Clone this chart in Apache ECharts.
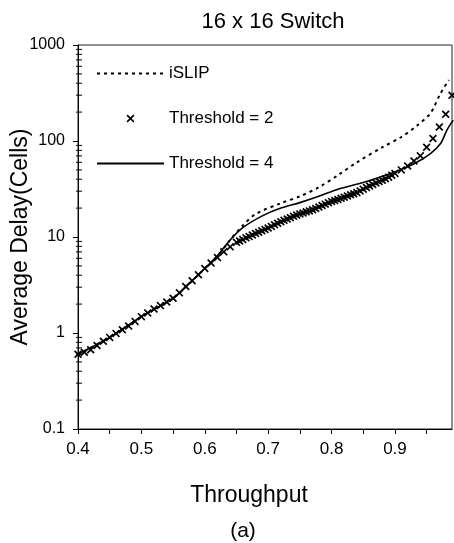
<!DOCTYPE html>
<html>
<head>
<meta charset="utf-8">
<script src="https://cdn.jsdelivr.net/npm/echarts@6/dist/echarts.min.js"></script>
<style>
    html, body { margin: 0; padding: 0; background: #fff; }
    #main { width: 454px; height: 543px; }
</style>
</head>
<body>
<div id="main"></div>
<script>
// 横轴 Throughput
var xTickLabels = ['0.4', '0.5', '0.6', '0.7', '0.8', '0.9'];

// iSLIP (dotted)
var islipX = [0.40, 0.45, 0.50, 0.55, 0.58, 0.60, 0.62, 0.64, 0.66, 0.68, 0.72, 0.75, 0.78, 0.81, 0.84, 0.88, 0.91, 0.935, 0.956, 0.972, 0.985];
var islipY = [0.60, 0.90, 1.48, 2.30, 3.50, 4.70, 6.3, 9.3, 13.2, 17.3, 22.5, 26.5, 33, 44, 60, 86, 110, 145, 195, 314, 432];

// Threshold = 2 (x markers)
var thr2X = [0.40, 0.41, 0.42, 0.43, 0.44, 0.45, 0.46, 0.47, 0.48, 0.49,
    0.50, 0.51, 0.52, 0.53, 0.54, 0.55, 0.56, 0.57, 0.58, 0.59,
    0.60, 0.61, 0.62, 0.63, 0.64,
    0.650, 0.655, 0.660, 0.665, 0.670, 0.675, 0.680, 0.685, 0.690, 0.695,
    0.700, 0.705, 0.710, 0.715, 0.720, 0.725, 0.730, 0.735, 0.740, 0.745,
    0.750, 0.755, 0.760, 0.765, 0.770, 0.775, 0.780, 0.785, 0.790, 0.795,
    0.800, 0.805, 0.810, 0.815, 0.820, 0.825, 0.830, 0.835, 0.840, 0.845,
    0.850, 0.855, 0.860, 0.865, 0.870, 0.875, 0.880, 0.885, 0.890, 0.895,
    0.90, 0.91, 0.92, 0.93, 0.94, 0.95, 0.96, 0.97, 0.98, 0.99];
var thr2Y = [0.60, 0.63, 0.67, 0.74, 0.82, 0.90, 0.99, 1.08, 1.18, 1.32,
    1.48, 1.62, 1.78, 1.93, 2.10, 2.30, 2.62, 3.05, 3.50, 4.05,
    4.70, 5.35, 6.10, 7.00, 7.90,
    8.8, 9.1, 9.4, 9.8, 10.1, 10.5, 10.9, 11.2, 11.6, 12.0,
    12.4, 12.9, 13.4, 13.9, 14.4, 14.9, 15.4, 15.9, 16.4, 16.9,
    17.4, 17.8, 18.3, 18.7, 19.2, 19.8, 20.5, 21.3, 22.0, 22.8,
    23.5, 24.0, 24.6, 25.3, 26.0, 26.8, 27.5, 28.2, 29.0, 30.2,
    31.5, 32.8, 34.0, 35.2, 36.5, 37.8, 39.0, 40.5, 42.0, 44.0,
    46, 50, 55, 62, 70, 86, 106, 140, 190, 300];

// Threshold = 4 (solid)
var thr4X = [0.40, 0.45, 0.50, 0.55, 0.58, 0.60, 0.62, 0.64, 0.66, 0.69, 0.72, 0.75, 0.78, 0.81, 0.85, 0.89, 0.93, 0.956, 0.972, 0.982, 0.992];
var thr4Y = [0.60, 0.90, 1.48, 2.30, 3.50, 4.70, 6.4, 9.3, 12.5, 16.5, 20.0, 22.8, 26.5, 31.5, 37, 45, 58, 74, 94, 130, 165];

// 对数轴的小刻度
var minorDecades = [0.1, 1, 10, 100];
var minorMults = [2, 3, 4, 5, 6, 7, 8, 9];

var seriesNames = ['iSLIP', 'Threshold = 2', 'Threshold = 4'];

// X 形标记
var crossPath = 'path://M0,1.5L1.5,0L5,3.5L8.5,0L10,1.5L6.5,5L10,8.5L8.5,10L5,6.5L1.5,10L0,8.5L3.5,5Z';

function _zip(xs, ys) {
    var _data = [];
    xs.forEach(function(x, i) {
        _data.push([x, ys[i]]);
    });
    return _data;
}

function _minorTickData() {
    var _data = [];
    minorDecades.forEach(function(d) {
        minorMults.forEach(function(m) {
            _data.push([0.4, d * m]);
        });
    });
    return _data;
}

function _initChart() {
    var myChart = echarts.init(document.getElementById('main'), null, { renderer: 'canvas' });
    var _font = '"Liberation Sans", Arial, sans-serif';
    var option = {
        animation: false,
        backgroundColor: '#fff',
        textStyle: { fontFamily: _font, color: '#000' },
        title: {
            text: '16 x 16 Switch',
            left: 268,
            textAlign: 'center',
            top: 6,
            textStyle: { fontFamily: _font, fontSize: 22, fontWeight: 'normal', color: '#000' }
        },
        grid: {
            left: 78,
            right: 2,
            top: 45,
            bottom: 114,
            outerBoundsMode: 'none',
            containLabel: false,
            show: true,
            borderColor: '#222',
            borderWidth: 1
        },
        legend: {
            // 线条图例不要圆点
            data: [
                { name: seriesNames[0], itemStyle: { opacity: 0 } },
                { name: seriesNames[1] },
                { name: seriesNames[2], itemStyle: { opacity: 0 } }
            ],
            orient: 'vertical',
            left: 96,
            top: 65,
            padding: 0,
            itemWidth: 67,
            itemHeight: 8,
            itemGap: 28,
            textStyle: { fontFamily: _font, fontSize: 17, color: '#000', lineHeight: 17 }
        },
        xAxis: {
            type: 'value',
            min: 0.4,
            max: 0.99,
            interval: 0.05,
            splitLine: { show: false },
            axisLine: { lineStyle: { color: '#000', width: 1 } },
            axisTick: { show: true, length: 5, lineStyle: { color: '#000' } },
            axisLabel: {
                color: '#000',
                fontFamily: _font,
                fontSize: 17,
                margin: 12,
                showMaxLabel: false,
                formatter: function(v) {
                    var _s = v.toFixed(1);
                    return (Math.abs(v * 10 - Math.round(v * 10)) < 1e-6 && xTickLabels.indexOf(_s) >= 0) ? _s : '';
                }
            }
        },
        yAxis: {
            type: 'log',
            logBase: 10,
            min: 0.1,
            max: 1000,
            name: 'Average Delay(Cells)',
            nameLocation: 'middle',
            nameGap: 46,
            nameMoveOverlap: false,
            nameTextStyle: { fontFamily: _font, fontSize: 23, color: '#000' },
            splitLine: { show: false },
            axisLine: { show: true, lineStyle: { color: '#000', width: 1 } },
            axisTick: { show: true, length: 5, lineStyle: { color: '#000' } },
            axisLabel: {
                color: '#000',
                fontFamily: _font,
                fontSize: 16,
                margin: 13,
                formatter: function(v) {
                    return String(v);
                }
            }
        },
        graphic: [{
            type: 'text',
            x: 249,
            y: 496,
            style: { text: 'Throughput', font: '23px ' + _font, fill: '#000', align: 'center', verticalAlign: 'middle' }
        }, {
            type: 'text',
            x: 243,
            y: 531,
            style: { text: '(a)', font: '21px ' + _font, fill: '#000', align: 'center', verticalAlign: 'middle' }
        }],
        series: [{
            name: seriesNames[0],
            type: 'line',
            smooth: 0.3,
            symbol: 'none',
            data: _zip(islipX, islipY),
            lineStyle: { color: '#000', width: 2, type: [3, 4] },
            itemStyle: { color: '#000' },
            z: 3
        }, {
            name: seriesNames[1],
            type: 'scatter',
            symbol: crossPath,
            symbolSize: 8,
            data: _zip(thr2X, thr2Y),
            itemStyle: { color: '#000', opacity: 1 },
            z: 4
        }, {
            name: seriesNames[2],
            type: 'line',
            smooth: 0.3,
            symbol: 'none',
            data: _zip(thr4X, thr4Y),
            lineStyle: { color: '#000', width: 1.6 },
            itemStyle: { color: '#000' },
            z: 3
        }, {
            // 对数轴小刻度
            type: 'custom',
            silent: true,
            clip: false,
            data: _minorTickData(),
            renderItem: function(params, api) {
                var p = api.coord([api.value(0), api.value(1)]);
                return {
                    type: 'line',
                    shape: { x1: p[0] - 2, y1: p[1], x2: p[0] + 4, y2: p[1] },
                    style: { stroke: '#000', lineWidth: 1 }
                };
            },
            z: 5
        }]
    };
    myChart.setOption(option, true);
}

_initChart();
</script>
</body>
</html>
